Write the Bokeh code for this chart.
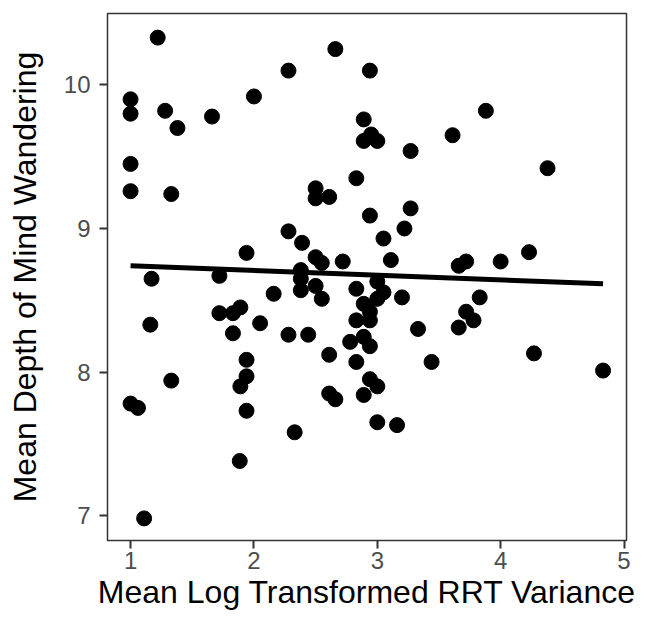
from bokeh.plotting import figure
from bokeh.models import Range1d, FixedTicker
from bokeh.embed import file_html
from bokeh.resources import INLINE

# Data
rrt_variance = [
    1.22, 2.66, 2.28, 2.94, 1.00, 1.00, 1.28, 1.38, 1.66, 2.00,
    1.00, 1.00, 1.33, 2.89, 2.89, 2.95, 3.00, 3.27, 3.61, 3.88,
    4.38, 2.83, 2.50, 2.50, 2.61, 2.94, 3.27, 3.22, 3.05, 3.11,
    3.66, 3.72, 4.00, 4.23, 2.28, 2.39, 2.50, 2.55, 2.72, 1.94,
    2.38, 2.38, 2.38, 1.17, 1.72, 1.16, 1.11, 1.33, 1.00, 1.06,
    1.72, 1.83, 1.89, 1.83, 2.05, 1.94, 1.94, 1.89, 1.94, 1.885,
    2.33, 2.16, 2.28, 2.44, 2.50, 2.55, 2.83, 2.89, 2.94, 2.83,
    2.94, 2.78, 2.89, 2.94, 2.61, 2.83, 2.94, 3.00, 2.61, 2.66,
    2.89, 3.00, 3.16, 3.00, 3.05, 3.00, 3.20, 3.33, 3.44, 3.83,
    3.72, 3.78, 3.66, 4.27, 4.83,
]
mind_wandering_depth = [
    10.33, 10.25, 10.10, 10.10, 9.90, 9.80, 9.82, 9.70, 9.78, 9.92,
    9.45, 9.26, 9.24, 9.76, 9.61, 9.655, 9.61, 9.54, 9.65, 9.82,
    9.42, 9.35, 9.28, 9.21, 9.22, 9.09, 9.14, 9.00, 8.93, 8.78,
    8.74, 8.77, 8.77, 8.835, 8.98, 8.90, 8.80, 8.76, 8.77, 8.83,
    8.71, 8.65, 8.57, 8.65, 8.67, 8.33, 6.98, 7.94, 7.78, 7.75,
    8.41, 8.41, 8.45, 8.27, 8.34, 8.085, 7.97, 7.90, 7.73, 7.38,
    7.58, 8.545, 8.26, 8.26, 8.60, 8.51, 8.58, 8.475, 8.42, 8.36,
    8.36, 8.21, 8.245, 8.18, 8.12, 8.07, 7.95, 7.90, 7.85, 7.81,
    7.84, 7.65, 7.63, 8.63, 8.555, 8.51, 8.52, 8.30, 8.07, 8.52,
    8.42, 8.36, 8.31, 8.13, 8.01,
]
# Linear fit line
trend_x = [1.00, 4.83]
trend_y = [8.74, 8.615]

x_ticks = [1, 2, 3, 4, 5]
y_ticks = [7, 8, 9, 10]

p = figure(
    width=638, height=615,
    output_backend="svg", toolbar_location=None,
    x_range=Range1d(0.813, 5.02), y_range=Range1d(6.826, 10.498),
    min_border_left=107, min_border_right=12, min_border_top=13, min_border_bottom=75,
)
p.background_fill_color = "white"
p.border_fill_color = "white"
p.outline_line_color = "#333333"
p.outline_line_width = 1.5
p.xgrid.visible = False
p.ygrid.visible = False

p.scatter(rrt_variance, mind_wandering_depth, size=15, color="black", line_color="black")
p.line(trend_x, trend_y, line_width=5, color="black")

for ax in (p.xaxis[0], p.yaxis[0]):
    ax.axis_line_color = None
    ax.major_tick_line_color = "#333333"
    ax.major_tick_line_width = 2
    ax.major_tick_out = 8
    ax.major_tick_in = 0
    ax.minor_tick_line_color = None
    ax.major_label_text_font = "Liberation Sans"
    ax.major_label_text_font_size = "24px"
    ax.major_label_text_color = "#4d4d4d"
    ax.axis_label_text_font = "Liberation Sans"
    ax.axis_label_text_font_size = "32px"
    ax.axis_label_text_font_style = "normal"
    ax.axis_label_text_color = "black"

p.xaxis[0].ticker = FixedTicker(ticks=x_ticks)
p.yaxis[0].ticker = FixedTicker(ticks=y_ticks)
p.xaxis[0].axis_label = "Mean Log Transformed RRT Variance"
p.yaxis[0].axis_label = "Mean Depth of Mind Wandering"
p.xaxis[0].major_label_standoff = 3
p.yaxis[0].major_label_standoff = 9
p.xaxis[0].axis_label_standoff = 2
p.yaxis[0].axis_label_standoff = 18

open("out.html", "w").write(file_html(p, INLINE))
